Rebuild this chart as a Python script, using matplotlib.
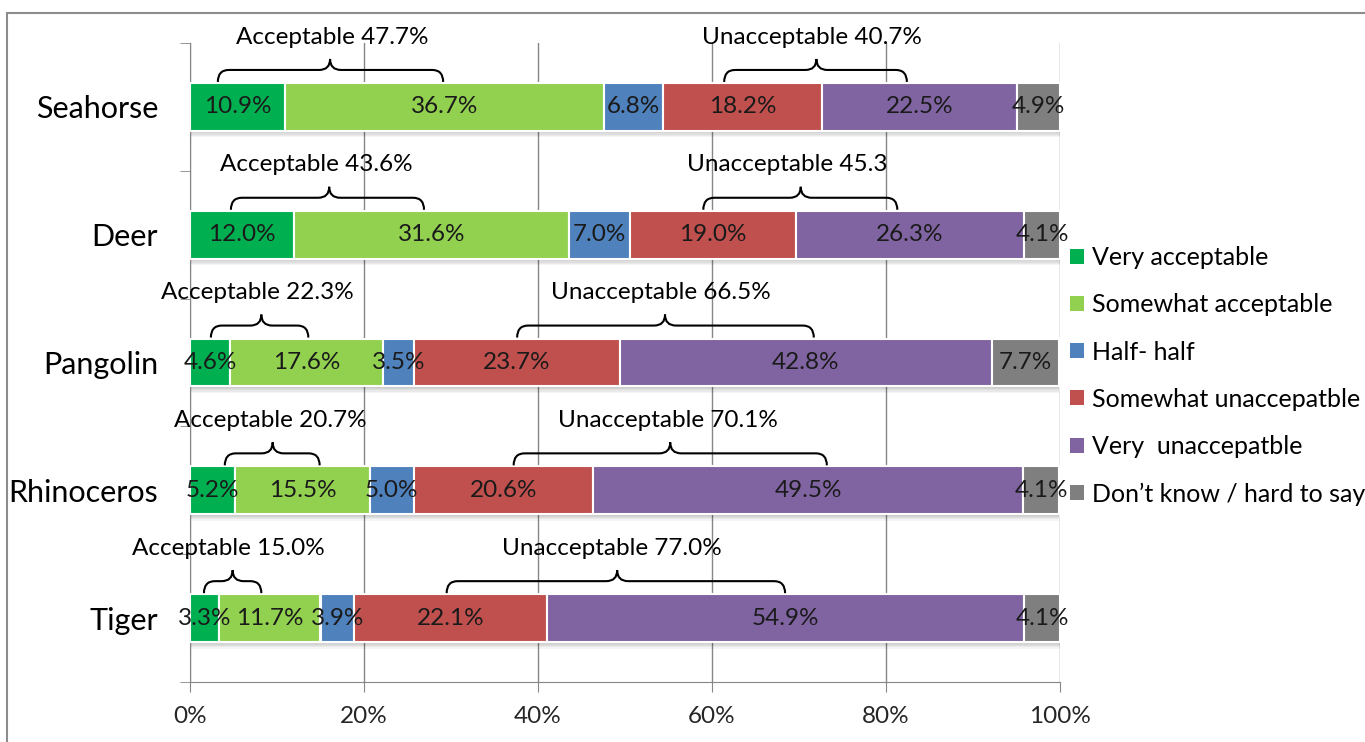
import numpy as np
import matplotlib
matplotlib.use("Agg")
import matplotlib.pyplot as plt
from matplotlib.path import Path
from matplotlib.patches import PathPatch, Patch, Rectangle

plt.rcParams['font.family'] = ['Lato', 'DejaVu Sans']

# data (percent)
animals = ['Seahorse', 'Deer', 'Pangolin', 'Rhinoceros', 'Tiger']
series_names = ['Very acceptable', 'Somewhat acceptable', 'Half- half',
                'Somewhat unaccepatble', 'Very  unaccepatble',
                'Don\u2019t know / hard to say']
very_acc = [10.9, 12.0, 4.6, 5.2, 3.3]
somewhat_acc = [36.7, 31.6, 17.6, 15.5, 11.7]
half_half = [6.8, 7.0, 3.5, 5.0, 3.9]
somewhat_unacc = [18.2, 19.0, 23.7, 20.6, 22.1]
very_unacc = [22.5, 26.3, 42.8, 49.5, 54.9]
dont_know = [4.9, 4.1, 7.7, 4.1, 4.1]

acc_labels = ['Acceptable 47.7%', 'Acceptable 43.6%', 'Acceptable 22.3%',
              'Acceptable 20.7%', 'Acceptable 15.0%']
unacc_labels = ['Unacceptable 40.7%', 'Unacceptable 45.3', 'Unacceptable 66.5%',
                'Unacceptable 70.1%', 'Unacceptable 77.0%']

# brace annotations: (start, tip, end) along the x axis, label x
acc_braces = [(3.2, 16.1, 29.1), (4.7, 16.0, 26.9), (2.4, 8.2, 13.6),
              (4.0, 9.5, 14.9), (1.6, 4.9, 8.2)]
unacc_braces = [(61.4, 72.0, 82.4), (59.0, 70.2, 81.3), (37.6, 54.6, 71.7),
                (37.2, 55.2, 73.2), (29.5, 49.1, 68.4)]
acc_label_x = [16.4, 14.5, 7.7, 9.2, 4.4]
unacc_label_x = [71.5, 68.7, 54.1, 54.9, 48.5]

colors = ['#00B050', '#92D050', '#4F81BD', '#C0504D', '#8064A2', '#7F7F7F']

W, H = 1365, 742
fig = plt.figure(figsize=(W / 100, H / 100), dpi=100)
ax = fig.add_axes([190 / W, 1 - 682 / H, 870 / W, 639 / H])

px_x = 100 / 870.0   # data units per pixel
px_y = 1 / 128.0

y = np.arange(len(animals))
bar_h = 0.375
series = [very_acc, somewhat_acc, half_half, somewhat_unacc, very_unacc, dont_know]
totals = np.sum(series, axis=0)

# soft shadow under the bars
for k in range(1, 6):
    ax.barh(y + k * 1.3 * px_y, totals, height=bar_h, color='black',
            alpha=0.045, linewidth=0, zorder=2)

left = np.zeros(len(animals))
for vals, c in zip(series, colors):
    bars = ax.barh(y, vals, left=left, height=bar_h, color=c,
                   edgecolor='white', linewidth=1.5, zorder=3)
    for yi, l, v in zip(y, left, vals):
        ax.text(l + v / 2, yi, f'{v:.1f}%', ha='center', va='center',
                fontsize=17.5, color='#1a1a1a', zorder=5)
    left = left + np.array(vals)


def brace(x0, xm, x1, ytop):
    ybot = ytop - 1 * px_y
    yline = ytop - 13 * px_y
    ytip = ytop - 24 * px_y
    r = 11 * px_x
    verts = [(x0, ybot), (x0, yline), (x0 + r, yline),
             (xm - r, yline), (xm, yline), (xm, ytip),
             (xm, yline), (xm + r, yline),
             (x1 - r, yline), (x1, yline), (x1, ybot)]
    codes = [Path.MOVETO, Path.CURVE3, Path.CURVE3,
             Path.LINETO, Path.CURVE3, Path.CURVE3,
             Path.CURVE3, Path.CURVE3,
             Path.LINETO, Path.CURVE3, Path.CURVE3]
    ax.add_patch(PathPatch(Path(verts, codes), fill=False, ec='black',
                           lw=1.5, zorder=6, clip_on=False))


for i in range(len(animals)):
    top = y[i] - bar_h / 2
    brace(*acc_braces[i], top)
    brace(*unacc_braces[i], top)
    ax.text(acc_label_x[i], top - 46 * px_y, acc_labels[i], ha='center',
            va='center', fontsize=17.5, color='black', zorder=6)
    ax.text(unacc_label_x[i], top - 46 * px_y, unacc_labels[i], ha='center',
            va='center', fontsize=17.5, color='black', zorder=6)

ax.set_xlim(0, 100)
ax.set_ylim(len(animals) - 0.5, -0.5)
ax.set_xticks(np.arange(0, 101, 20))
ax.set_xticklabels([f'{v}%' for v in range(0, 101, 20)])
ax.set_yticks(y)
ax.set_yticklabels(animals)
ax.set_yticks(np.arange(-0.5, len(animals), 1), minor=True)

gray = '#868686'
ax.xaxis.grid(True, color=gray, lw=1)
ax.set_axisbelow(True)
for s in ['top', 'right']:
    ax.spines[s].set_visible(False)
for s in ['left', 'bottom']:
    ax.spines[s].set_color(gray)
ax.tick_params(axis='y', which='major', length=0, pad=23, labelsize=22,
               labelcolor='black')
ax.tick_params(axis='y', which='minor', length=7, color=gray)
ax.tick_params(axis='x', length=7, color=gray, labelsize=17.5, pad=10,
               labelcolor='#262626')

handles = [Patch(facecolor=c, edgecolor='none') for c in colors]
fig.legend(handles, series_names, loc='upper left',
           bbox_to_anchor=(1070 / W, 1 - 246 / H), frameon=False,
           fontsize=18, handlelength=0.55, handleheight=0.55,
           handletextpad=0.35, labelspacing=0.97, borderpad=0,
           borderaxespad=0)

fig.patches.append(Rectangle((7 / W, -0.05), 1.1, 1 - 13 / H + 0.05,
                             transform=fig.transFigure, fill=False,
                             ec='#8c8c8c', lw=1.5))

fig.savefig('out.png', dpi=100)
